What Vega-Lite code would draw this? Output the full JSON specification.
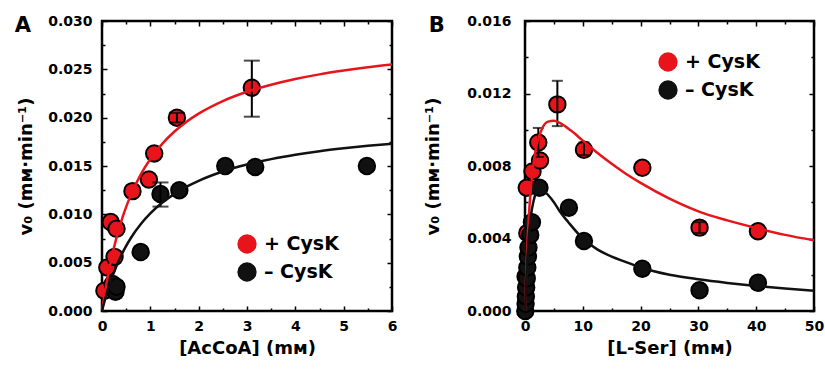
{
  "$schema": "https://vega.github.io/schema/vega-lite/v6.json",
  "background": "white",
  "padding": {"left": 13, "top": 12, "right": 0, "bottom": 0},
  "bounds": "flush",
  "spacing": 133,
  "datasets": {
    "ptsA": [
      {"x": 0.05, "y": 0.0021, "s": "+ CysK"},
      {"x": 0.11, "y": 0.0045, "s": "+ CysK"},
      {"x": 0.26, "y": 0.0056, "s": "+ CysK"},
      {"x": 0.18, "y": 0.0092, "s": "+ CysK"},
      {"x": 0.3, "y": 0.0085, "s": "+ CysK"},
      {"x": 0.63, "y": 0.0124, "s": "+ CysK"},
      {"x": 0.97, "y": 0.0136, "s": "+ CysK"},
      {"x": 1.08, "y": 0.0163, "s": "+ CysK"},
      {"x": 1.55, "y": 0.0200, "s": "+ CysK"},
      {"x": 3.1, "y": 0.0231, "s": "+ CysK"},
      {"x": 0.22, "y": 0.0028, "s": "– CysK"},
      {"x": 0.28, "y": 0.0020, "s": "– CysK"},
      {"x": 0.3, "y": 0.0025, "s": "– CysK"},
      {"x": 0.8, "y": 0.0061, "s": "– CysK"},
      {"x": 1.21, "y": 0.0121, "s": "– CysK"},
      {"x": 1.6, "y": 0.0125, "s": "– CysK"},
      {"x": 2.55, "y": 0.0150, "s": "– CysK"},
      {"x": 3.17, "y": 0.0149, "s": "– CysK"},
      {"x": 5.48, "y": 0.0150, "s": "– CysK"}
    ],
    "errA": [
      {"x": 3.1, "lo": 0.0201, "hi": 0.0259},
      {"x": 1.21, "lo": 0.0108, "hi": 0.0133},
      {"x": 1.55, "lo": 0.0195, "hi": 0.0205}
    ],
    "curveA": [
      {"x": 0, "y": 0, "s": "+ CysK"},
      {"x": 0.05, "y": 0.00162, "s": "+ CysK"},
      {"x": 0.1, "y": 0.00306, "s": "+ CysK"},
      {"x": 0.2, "y": 0.00554, "s": "+ CysK"},
      {"x": 0.3, "y": 0.00759, "s": "+ CysK"},
      {"x": 0.45, "y": 0.01007, "s": "+ CysK"},
      {"x": 0.6, "y": 0.01204, "s": "+ CysK"},
      {"x": 0.8, "y": 0.01411, "s": "+ CysK"},
      {"x": 1.0, "y": 0.01573, "s": "+ CysK"},
      {"x": 1.25, "y": 0.01732, "s": "+ CysK"},
      {"x": 1.5, "y": 0.01857, "s": "+ CysK"},
      {"x": 1.75, "y": 0.01959, "s": "+ CysK"},
      {"x": 2.0, "y": 0.02042, "s": "+ CysK"},
      {"x": 2.5, "y": 0.02172, "s": "+ CysK"},
      {"x": 3.0, "y": 0.02268, "s": "+ CysK"},
      {"x": 3.5, "y": 0.02341, "s": "+ CysK"},
      {"x": 4.0, "y": 0.02400, "s": "+ CysK"},
      {"x": 4.5, "y": 0.02448, "s": "+ CysK"},
      {"x": 5.0, "y": 0.02487, "s": "+ CysK"},
      {"x": 5.5, "y": 0.02521, "s": "+ CysK"},
      {"x": 6.0, "y": 0.02549, "s": "+ CysK"},
      {"x": 0, "y": 0, "s": "– CysK"},
      {"x": 0.05, "y": 0.00096, "s": "– CysK"},
      {"x": 0.1, "y": 0.00184, "s": "– CysK"},
      {"x": 0.2, "y": 0.00337, "s": "– CysK"},
      {"x": 0.3, "y": 0.00466, "s": "– CysK"},
      {"x": 0.45, "y": 0.00627, "s": "– CysK"},
      {"x": 0.6, "y": 0.00758, "s": "– CysK"},
      {"x": 0.8, "y": 0.00898, "s": "– CysK"},
      {"x": 1.0, "y": 0.01010, "s": "– CysK"},
      {"x": 1.25, "y": 0.01122, "s": "– CysK"},
      {"x": 1.5, "y": 0.01212, "s": "– CysK"},
      {"x": 1.75, "y": 0.01286, "s": "– CysK"},
      {"x": 2.0, "y": 0.01347, "s": "– CysK"},
      {"x": 2.5, "y": 0.01443, "s": "– CysK"},
      {"x": 3.0, "y": 0.01515, "s": "– CysK"},
      {"x": 3.5, "y": 0.01571, "s": "– CysK"},
      {"x": 4.0, "y": 0.01616, "s": "– CysK"},
      {"x": 4.5, "y": 0.01653, "s": "– CysK"},
      {"x": 5.0, "y": 0.01683, "s": "– CysK"},
      {"x": 5.5, "y": 0.01709, "s": "– CysK"},
      {"x": 6.0, "y": 0.01731, "s": "– CysK"}
    ],
    "ptsB": [
      {"x": 0.1, "y": 0.0019, "s": "+ CysK"},
      {"x": 0.4, "y": 0.0043, "s": "+ CysK"},
      {"x": 0.3, "y": 0.0068, "s": "+ CysK"},
      {"x": 1.3, "y": 0.0077, "s": "+ CysK"},
      {"x": 2.6, "y": 0.0083, "s": "+ CysK"},
      {"x": 2.3, "y": 0.0093, "s": "+ CysK"},
      {"x": 5.6, "y": 0.0114, "s": "+ CysK"},
      {"x": 10.2, "y": 0.0089, "s": "+ CysK"},
      {"x": 20.3, "y": 0.0079, "s": "+ CysK"},
      {"x": 30.2, "y": 0.0046, "s": "+ CysK"},
      {"x": 40.3, "y": 0.0044, "s": "+ CysK"},
      {"x": 0.05, "y": 0.0000, "s": "– CysK"},
      {"x": 0.1, "y": 0.0004, "s": "– CysK"},
      {"x": 0.15, "y": 0.0008, "s": "– CysK"},
      {"x": 0.2, "y": 0.0013, "s": "– CysK"},
      {"x": 0.3, "y": 0.0018, "s": "– CysK"},
      {"x": 0.4, "y": 0.0024, "s": "– CysK"},
      {"x": 0.5, "y": 0.0030, "s": "– CysK"},
      {"x": 0.6, "y": 0.0035, "s": "– CysK"},
      {"x": 0.9, "y": 0.0042, "s": "– CysK"},
      {"x": 1.2, "y": 0.0049, "s": "– CysK"},
      {"x": 2.5, "y": 0.0068, "s": "– CysK"},
      {"x": 7.6, "y": 0.0057, "s": "– CysK"},
      {"x": 10.2, "y": 0.00386, "s": "– CysK"},
      {"x": 20.3, "y": 0.00233, "s": "– CysK"},
      {"x": 30.2, "y": 0.00114, "s": "– CysK"},
      {"x": 40.3, "y": 0.00156, "s": "– CysK"}
    ],
    "errB": [
      {"x": 5.6, "lo": 0.0102, "hi": 0.0127},
      {"x": 2.3, "lo": 0.0085, "hi": 0.0101},
      {"x": 10.2, "lo": 0.0086, "hi": 0.0093},
      {"x": 30.2, "lo": 0.0043, "hi": 0.0049}
    ],
    "curveB": [
      {"x": 0, "y": 0, "s": "+ CysK"},
      {"x": 0.25, "y": 0.00245, "s": "+ CysK"},
      {"x": 0.5, "y": 0.00427, "s": "+ CysK"},
      {"x": 0.75, "y": 0.00564, "s": "+ CysK"},
      {"x": 1, "y": 0.00670, "s": "+ CysK"},
      {"x": 1.5, "y": 0.00819, "s": "+ CysK"},
      {"x": 2, "y": 0.00913, "s": "+ CysK"},
      {"x": 3, "y": 0.01010, "s": "+ CysK"},
      {"x": 4, "y": 0.01045, "s": "+ CysK"},
      {"x": 5, "y": 0.01049, "s": "+ CysK"},
      {"x": 6, "y": 0.01038, "s": "+ CysK"},
      {"x": 8, "y": 0.00994, "s": "+ CysK"},
      {"x": 10, "y": 0.00940, "s": "+ CysK"},
      {"x": 12.5, "y": 0.00873, "s": "+ CysK"},
      {"x": 15, "y": 0.00812, "s": "+ CysK"},
      {"x": 17.5, "y": 0.00756, "s": "+ CysK"},
      {"x": 20, "y": 0.00707, "s": "+ CysK"},
      {"x": 25, "y": 0.00620, "s": "+ CysK"},
      {"x": 30, "y": 0.00550, "s": "+ CysK"},
      {"x": 35, "y": 0.00500, "s": "+ CysK"},
      {"x": 40, "y": 0.00458, "s": "+ CysK"},
      {"x": 45, "y": 0.00420, "s": "+ CysK"},
      {"x": 50, "y": 0.00390, "s": "+ CysK"},
      {"x": 0, "y": 0, "s": "– CysK"},
      {"x": 0.5, "y": 0.0034, "s": "– CysK"},
      {"x": 1, "y": 0.0052, "s": "– CysK"},
      {"x": 1.5, "y": 0.0061, "s": "– CysK"},
      {"x": 2, "y": 0.0066, "s": "– CysK"},
      {"x": 2.5, "y": 0.0068, "s": "– CysK"},
      {"x": 3, "y": 0.0067, "s": "– CysK"},
      {"x": 4, "y": 0.0064, "s": "– CysK"},
      {"x": 5, "y": 0.0060, "s": "– CysK"},
      {"x": 6, "y": 0.0055, "s": "– CysK"},
      {"x": 7.5, "y": 0.0049, "s": "– CysK"},
      {"x": 10, "y": 0.0040, "s": "– CysK"},
      {"x": 12.5, "y": 0.0034, "s": "– CysK"},
      {"x": 15, "y": 0.0030, "s": "– CysK"},
      {"x": 17.5, "y": 0.0027, "s": "– CysK"},
      {"x": 20, "y": 0.0024, "s": "– CysK"},
      {"x": 25, "y": 0.0020, "s": "– CysK"},
      {"x": 30, "y": 0.00175, "s": "– CysK"},
      {"x": 35, "y": 0.00155, "s": "– CysK"},
      {"x": 40, "y": 0.00138, "s": "– CysK"},
      {"x": 45, "y": 0.00124, "s": "– CysK"},
      {"x": 50, "y": 0.00112, "s": "– CysK"}
    ]
  },
  "hconcat": [
    {
      "width": 290,
      "height": 290,
      "title": {"text": "A", "dy": 26, "dx": -3},
      "layer": [
        {
          "data": {"name": "ptsA"},
          "mark": {"type": "circle", "size": 270, "stroke": "black", "strokeWidth": 2, "opacity": 1},
          "encoding": {
            "x": {"field": "x", "type": "quantitative", "scale": {"domain": [0, 6], "nice": false, "zero": false, "padding": 0},
              "axis": {"orient": "top", "labels": false, "title": null, "values": [0, 0.5, 1, 1.5, 2, 2.5, 3, 3.5, 4, 4.5, 5, 5.5, 6],
                "tickSize": {"condition": {"test": "datum.value % 1 === 0", "value": -5}, "value": -3}}},
            "y": {"field": "y", "type": "quantitative", "scale": {"domain": [0, 0.03], "nice": false, "padding": 0},
              "axis": {"orient": "right", "labels": false, "title": null, "values": [0, 0.0025, 0.005, 0.0075, 0.01, 0.0125, 0.015, 0.0175, 0.02, 0.0225, 0.025, 0.0275, 0.03],
                "tickSize": {"condition": {"test": "round(datum.value * 1000) % 5 === 0", "value": -5}, "value": -3}}},
            "fill": {"field": "s", "type": "nominal", "scale": {"domain": ["+ CysK", "– CysK"], "range": ["#e8141c", "#111111"]},
              "legend": {"orient": "none", "legendX": 135, "legendY": 213, "title": null, "symbolType": "circle", "symbolSize": 300,
                "symbolStrokeColor": "black", "symbolStrokeWidth": 2, "symbolOpacity": 1, "labelFontSize": 19, "labelOffset": 7, "rowPadding": 2, "padding": 0}}
          }
        },
        {
          "data": {"name": "errA"},
          "mark": {"type": "errorbar", "ticks": true, "size": 16, "thickness": 2, "color": "black"},
          "encoding": {
            "x": {"field": "x", "type": "quantitative", "scale": {"domain": [0, 6], "nice": false, "zero": false, "padding": 0},
              "axis": {"orient": "bottom", "title": "[AcCoA] (mᴍ)", "ticks": false, "values": [0, 1, 2, 3, 4, 5, 6], "labelPadding": 8, "titlePadding": 6}},
            "y": {"field": "lo", "type": "quantitative", "scale": {"domain": [0, 0.03], "nice": false, "padding": 0},
              "axis": {"orient": "left", "title": "v₀ (mᴍ·min⁻¹)", "ticks": false, "values": [0, 0.005, 0.01, 0.015, 0.02, 0.025, 0.03], "format": ".3f", "labelPadding": 10, "titlePadding": 12}},
            "y2": {"field": "hi"}
          }
        },
        {
          "data": {"name": "curveA"},
          "mark": {"type": "line", "strokeWidth": 2.5, "interpolate": "monotone"},
          "encoding": {
            "x": {"field": "x", "type": "quantitative", "scale": {"domain": [0, 6], "nice": false, "zero": false, "padding": 0},
              "axis": {"orient": "bottom", "labels": false, "title": null, "values": [0, 0.5, 1, 1.5, 2, 2.5, 3, 3.5, 4, 4.5, 5, 5.5, 6],
                "tickSize": {"condition": {"test": "datum.value % 1 === 0", "value": -5}, "value": -3}}},
            "y": {"field": "y", "type": "quantitative", "scale": {"domain": [0, 0.03], "nice": false, "padding": 0},
              "axis": {"orient": "left", "labels": false, "title": null, "values": [0, 0.0025, 0.005, 0.0075, 0.01, 0.0125, 0.015, 0.0175, 0.02, 0.0225, 0.025, 0.0275, 0.03],
                "tickSize": {"condition": {"test": "round(datum.value * 1000) % 5 === 0", "value": -5}, "value": -3}}},
            "stroke": {"field": "s", "type": "nominal", "scale": {"domain": ["+ CysK", "– CysK"], "range": ["#e8141c", "#111111"]}, "legend": null}
          }
        }
      ],
      "resolve": {"axis": {"x": "independent", "y": "independent"}}
    },
    {
      "width": 289,
      "height": 290,
      "title": {"text": "B", "dy": 26, "dx": 4},
      "layer": [
        {
          "data": {"name": "ptsB"},
          "mark": {"type": "circle", "size": 270, "stroke": "black", "strokeWidth": 2, "opacity": 1},
          "encoding": {
            "x": {"field": "x", "type": "quantitative", "scale": {"domain": [0, 50], "nice": false, "zero": false, "padding": 0},
              "axis": {"orient": "top", "labels": false, "title": null, "values": [0, 5, 10, 15, 20, 25, 30, 35, 40, 45, 50],
                "tickSize": {"condition": {"test": "datum.value % 10 === 0", "value": -5}, "value": -3}}},
            "y": {"field": "y", "type": "quantitative", "scale": {"domain": [0, 0.016], "nice": false, "padding": 0},
              "axis": {"orient": "right", "labels": false, "title": null, "values": [0, 0.002, 0.004, 0.006, 0.008, 0.01, 0.012, 0.014, 0.016],
                "tickSize": {"condition": {"test": "round(datum.value * 1000) % 4 === 0", "value": -5}, "value": -3}}},
            "fill": {"field": "s", "type": "nominal", "scale": {"domain": ["+ CysK", "– CysK"], "range": ["#e8141c", "#111111"]},
              "legend": {"orient": "none", "legendX": 133, "legendY": 31, "title": null, "symbolType": "circle", "symbolSize": 300,
                "symbolStrokeColor": "black", "symbolStrokeWidth": 2, "symbolOpacity": 1, "labelFontSize": 19, "labelOffset": 7, "rowPadding": 2, "padding": 0}}
          }
        },
        {
          "data": {"name": "errB"},
          "mark": {"type": "errorbar", "ticks": true, "size": 11, "thickness": 2, "color": "black"},
          "encoding": {
            "x": {"field": "x", "type": "quantitative", "scale": {"domain": [0, 50], "nice": false, "zero": false, "padding": 0},
              "axis": {"orient": "bottom", "title": "[L-Ser] (mᴍ)", "ticks": false, "values": [0, 10, 20, 30, 40, 50], "labelPadding": 8, "titlePadding": 6}},
            "y": {"field": "lo", "type": "quantitative", "scale": {"domain": [0, 0.016], "nice": false, "padding": 0},
              "axis": {"orient": "left", "title": "v₀ (mᴍ·min⁻¹)", "ticks": false, "values": [0, 0.004, 0.008, 0.012, 0.016], "format": ".3f", "labelPadding": 14, "titlePadding": 24}},
            "y2": {"field": "hi"}
          }
        },
        {
          "data": {"name": "curveB"},
          "mark": {"type": "line", "strokeWidth": 2.5, "interpolate": "monotone"},
          "encoding": {
            "x": {"field": "x", "type": "quantitative", "scale": {"domain": [0, 50], "nice": false, "zero": false, "padding": 0},
              "axis": {"orient": "bottom", "labels": false, "title": null, "values": [0, 5, 10, 15, 20, 25, 30, 35, 40, 45, 50],
                "tickSize": {"condition": {"test": "datum.value % 10 === 0", "value": -5}, "value": -3}}},
            "y": {"field": "y", "type": "quantitative", "scale": {"domain": [0, 0.016], "nice": false, "padding": 0},
              "axis": {"orient": "left", "labels": false, "title": null, "values": [0, 0.002, 0.004, 0.006, 0.008, 0.01, 0.012, 0.014, 0.016],
                "tickSize": {"condition": {"test": "round(datum.value * 1000) % 4 === 0", "value": -5}, "value": -3}}},
            "stroke": {"field": "s", "type": "nominal", "scale": {"domain": ["+ CysK", "– CysK"], "range": ["#e8141c", "#111111"]}, "legend": null}
          }
        }
      ],
      "resolve": {"axis": {"x": "independent", "y": "independent"}}
    }
  ],
  "resolve": {"scale": {"fill": "independent", "stroke": "independent"}, "legend": {"fill": "independent"}},
  "config": {
    "font": "DejaVu Sans",
    "view": {"stroke": "black", "strokeWidth": 2.5},
    "axis": {"grid": false, "domain": false, "labelFlush": false, "labelFont": "DejaVu Sans", "labelFontWeight": "bold", "labelFontSize": 14, "labelColor": "black",
      "titleFont": "DejaVu Sans", "titleFontWeight": "bold", "titleFontSize": 18, "titleColor": "black", "tickColor": "black", "tickWidth": 1.5},
    "legend": {"labelFont": "DejaVu Sans", "labelFontWeight": "bold", "labelColor": "black"},
    "title": {"font": "DejaVu Sans", "fontSize": 21, "fontWeight": "bold", "anchor": "start", "frame": "bounds", "color": "black", "offset": 0}
  }
}
